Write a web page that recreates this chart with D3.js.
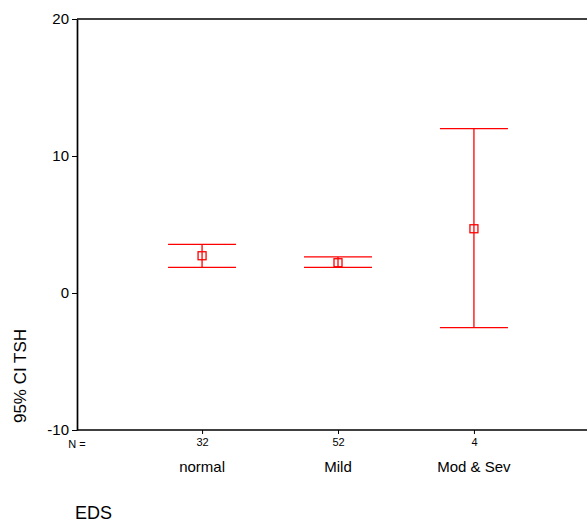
<!DOCTYPE html>
<html>
<head>
<meta charset="utf-8">
<script src="https://cdn.jsdelivr.net/npm/d3@7"></script>
<style>
  body { margin: 0; background: #fff; }
  svg { display: block; font-family: Arial, "Liberation Sans", sans-serif; }
</style>
</head>
<body>
<div id="container"></div>
<script>
/* CONSTANTS AND GLOBALS */
const width = 587,
  height = 523,
  margin = { top: 19, bottom: 93, left: 77, right: -12 };

/* DATA */
const groups = ["normal", "Mild", "Mod & Sev"];
const counts = [32, 52, 4];
const means = [2.72, 2.21, 4.69];
const lower = [1.87, 1.87, -2.53];
const upper = [3.55, 2.63, 12.0];
const yTicks = [-10, 0, 10, 20];

const data = groups.map((g, i) => ({
  group: g, n: counts[i], mean: means[i], lo: lower[i], hi: upper[i]
}));

/* SCALES */
const xScale = d3.scalePoint()
  .domain(groups)
  .range([margin.left, width - margin.right])
  .padding(0.92);

const yScale = d3.scaleLinear()
  .domain([-10, 20])
  .range([height - margin.bottom, margin.top]);

/* HTML ELEMENTS */
const svg = d3.select("#container")
  .append("svg")
  .attr("width", width)
  .attr("height", height);

// frame: top line
svg.append("line")
  .attr("x1", margin.left).attr("x2", width + 5)
  .attr("y1", margin.top).attr("y2", margin.top)
  .attr("stroke", "#000").attr("stroke-width", 1.7);

// y axis
const yAxis = d3.axisLeft(yScale).tickValues(yTicks).tickSize(5).tickSizeOuter(0).tickPadding(3)
  .tickFormat(d => String(d)); // plain hyphen, not unicode minus
const gy = svg.append("g")
  .attr("transform", `translate(${margin.left}, 0)`)
  .call(yAxis);
gy.select(".domain").attr("stroke-width", 1.7);
gy.selectAll("text").attr("font-size", 15).attr("fill", "#000").attr("font-family", "Arial, 'Liberation Sans', sans-serif");

// x axis
const xAxis = d3.axisBottom(xScale).tickSize(4).tickSizeOuter(0).tickPadding(4)
  .tickFormat((d, i) => counts[i]);
const gx = svg.append("g")
  .attr("transform", `translate(0, ${height - margin.bottom})`)
  .call(xAxis);
gx.select(".domain").attr("stroke-width", 1.7).attr("d", `M${margin.left},0H${width + 5}`);
gx.selectAll("text").attr("font-size", 11).attr("fill", "#000").attr("font-family", "Arial, 'Liberation Sans', sans-serif");

// "N =" label
svg.append("text")
  .attr("x", margin.left)
  .attr("y", height - margin.bottom + 18)
  .attr("text-anchor", "middle")
  .attr("font-size", 11)
  .text("N =");

// category labels
svg.selectAll(".cat")
  .data(data)
  .join("text")
  .attr("class", "cat")
  .attr("x", d => xScale(d.group))
  .attr("y", height - margin.bottom + 42)
  .attr("text-anchor", "middle")
  .attr("font-size", 15)
  .text(d => d.group);

// axis titles
svg.append("text")
  .attr("x", 75)
  .attr("y", 523)
  .attr("font-size", 18)
  .attr("dy", "-0.2em")
  .text("EDS");

svg.append("text")
  .attr("transform", `translate(26, 376) rotate(-90)`)
  .attr("text-anchor", "middle")
  .attr("font-size", 17)
  .text("95% CI TSH");

// error bars
const capHalf = 34;
const bars = svg.selectAll(".bar")
  .data(data)
  .join("g")
  .attr("class", "bar")
  .attr("stroke", "#ff0000")
  .attr("stroke-width", 1.3)
  .attr("fill", "none");

bars.append("line")
  .attr("x1", d => xScale(d.group)).attr("x2", d => xScale(d.group))
  .attr("y1", d => yScale(d.hi)).attr("y2", d => yScale(d.lo));

bars.append("line")
  .attr("x1", d => xScale(d.group) - capHalf).attr("x2", d => xScale(d.group) + capHalf)
  .attr("y1", d => yScale(d.hi)).attr("y2", d => yScale(d.hi));

bars.append("line")
  .attr("x1", d => xScale(d.group) - capHalf).attr("x2", d => xScale(d.group) + capHalf)
  .attr("y1", d => yScale(d.lo)).attr("y2", d => yScale(d.lo));

bars.append("rect")
  .attr("x", d => xScale(d.group) - 4)
  .attr("y", d => yScale(d.mean) - 4)
  .attr("width", 8)
  .attr("height", 8)
  .attr("fill", "#fff");

bars.append("line")
  .attr("x1", d => xScale(d.group)).attr("x2", d => xScale(d.group))
  .attr("y1", d => yScale(d.mean) - 4).attr("y2", d => yScale(d.mean) + 4);
</script>
</body>
</html>
